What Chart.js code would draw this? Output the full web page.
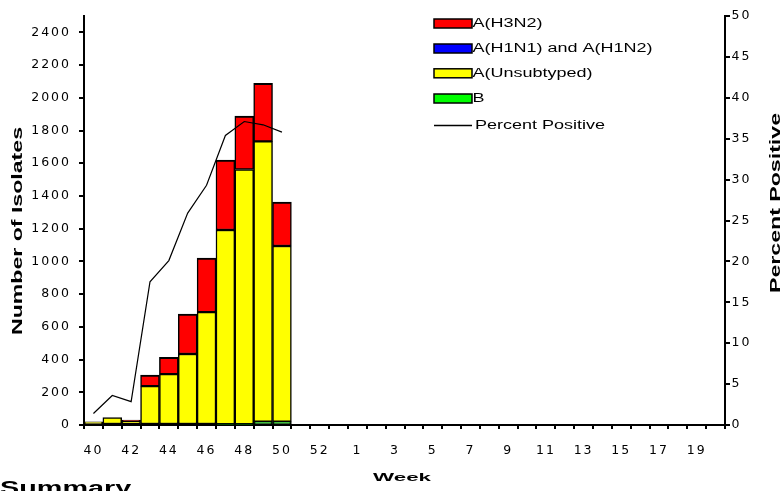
<!DOCTYPE html>
<html><head><meta charset="utf-8">
<script src="https://cdn.jsdelivr.net/npm/chart.js@4.4.1/dist/chart.umd.min.js"></script>
<style>
html,body{margin:0;padding:0;background:#fff;overflow:hidden;width:784px;height:491px;}
#wrap{position:relative;width:784px;height:491px;overflow:hidden;}
canvas{position:absolute;left:0;top:0;}
#summary{position:absolute;left:0;top:479px;font:bold 18px "Liberation Sans",Arial,sans-serif;line-height:18px;transform:scaleX(1.6);transform-origin:0 0;white-space:nowrap;color:#000;}
</style></head><body>
<div id="wrap"><canvas id="c" width="784" height="491"></canvas><div id="summary">Summary</div></div>
<script>
// ---- data ----
const weeks = ['40','41','42','43','44','45','46','47','48','49','50','51','52','53',
  '1','2','3','4','5','6','7','8','9','10','11','12','13','14','15','16','17','18','19','20'];
const xTickLabels = ['40','42','44','46','48','50','52','1','3','5','7','9','11','13','15','17','19'];
const leftTicks = [0,200,400,600,800,1000,1200,1400,1600,1800,2000,2200,2400];
const rightTicks = [0,5,10,15,20,25,30,35,40,45,50];
const h3n2 =       [0, 0, 5, 67, 103, 244, 330, 427, 326, 354, 269];
const h1n1h1n2 =   [0, 0, 0, 0, 0, 0, 0, 0, 0, 0, 0];
const unsubtyped = [20, 45, 25, 238, 311, 434, 690, 1187, 1557, 1714, 1074];
const bType =      [0, 0, 0, 0, 0, 0, 0, 5, 5, 20, 20];
const pctPositive = [1.4, 3.6, 2.85, 17.5, 20.1, 25.9, 29.3, 35.4, 37.1, 36.7, 35.8];

const pad = arr => weeks.map((w,i) => i < arr.length ? arr[i] : null);

const FONT = {family:'"DejaVu Sans", "Liberation Sans", Arial, sans-serif', size:12.5};
const SP = '2px';
const spacingPlugin = {
  id:'spacing',
  beforeUpdate(c){ c.ctx.letterSpacing = SP; },
  beforeLayout(c){ c.ctx.letterSpacing = SP; },
  beforeDraw(c){ c.ctx.letterSpacing = SP; }
};

function stretchText(ctx, text, cx, cy, font, len, rot){
  ctx.save();
  ctx.letterSpacing = '0px';
  ctx.font = font;
  const w = ctx.measureText(text).width;
  ctx.translate(cx, cy); ctx.rotate(rot); ctx.scale(len / w, 1);
  ctx.textAlign = 'center'; ctx.textBaseline = 'middle'; ctx.fillStyle = '#000';
  ctx.fillText(text, 0, 0);
  ctx.restore();
}

const legendOrder = ['A(H3N2)', 'A(H1N1) and A(H1N2)', 'A(Unsubtyped)', 'B', 'Percent Positive'];
const decorPlugin = {
  id:'decor',
  afterDraw(c){
    const ctx = c.ctx;
    // axis titles
    stretchText(ctx, 'Number of Isolates', 18, 231, 'bold 14px "Liberation Sans", Arial, sans-serif', 208, -Math.PI/2);
    stretchText(ctx, 'Percent Positive', 776, 203, 'bold 14px "Liberation Sans", Arial, sans-serif', 180, -Math.PI/2);
    stretchText(ctx, 'Week', 402, 478.5, 'bold 10px "Liberation Sans", Arial, sans-serif', 58, 0);
    // legend
    const rows = [23.5, 48.5, 73.3, 98.5, 125.5];
    legendOrder.forEach((lab, k) => {
      const ds = c.data.datasets.find(d => d.label === lab);
      const y = rows[k];
      ctx.save();
      ctx.letterSpacing = '0px';
      if (ds.type === 'line') {
        ctx.strokeStyle = '#000'; ctx.lineWidth = 1.5;
        ctx.beginPath(); ctx.moveTo(434, y); ctx.lineTo(472, y); ctx.stroke();
      } else {
        ctx.fillStyle = ds.backgroundColor;
        ctx.fillRect(434, y - 4.5, 38, 9);
        ctx.strokeStyle = '#000'; ctx.lineWidth = 1.5;
        ctx.strokeRect(434, y - 4.5, 38, 9);
      }
      ctx.font = '12px "Liberation Sans", Arial, sans-serif';
      ctx.fillStyle = '#000'; ctx.textAlign = 'left'; ctx.textBaseline = 'middle';
      ctx.translate(ds.type === 'line' ? 475 : 472.5, y + 0.5);
      ctx.scale(1.5, 1);
      ctx.fillText(lab, 0, 0);
      ctx.restore();
    });
  }
};

const barStyle = {borderColor:'#000', borderWidth:1.5, borderSkipped:false, barPercentage:1, categoryPercentage:1, yAxisID:'y'};
const plainNum = v => String(v);

new Chart(document.getElementById('c'), {
  type:'bar',
  data:{
    labels: weeks,
    datasets:[
      Object.assign({label:'B', data:pad(bType), backgroundColor:'#00ff00'}, barStyle),
      Object.assign({label:'A(H1N1) and A(H1N2)', data:pad(h1n1h1n2), backgroundColor:'#0000ff'}, barStyle),
      Object.assign({label:'A(Unsubtyped)', data:pad(unsubtyped), backgroundColor:'#ffff00'}, barStyle),
      Object.assign({}, barStyle, {label:'A(H3N2)', data:pad(h3n2), backgroundColor:'#ff0000', borderWidth:{top:2,left:1.5,right:1.5,bottom:1.5}}),
      {type:'line', label:'Percent Positive', data:pad(pctPositive), yAxisID:'y2', borderColor:'#000', borderWidth:1.2,
       pointRadius:0, tension:0, fill:false, order:-1, spanGaps:false}
    ]
  },
  options:{
    responsive:false, animation:false, devicePixelRatio:1,
    layout:{padding:{top:16, left:0, right:0, bottom:0}},
    plugins:{legend:{display:false}, tooltip:{enabled:false}, title:{display:false}},
    scales:{
      x:{
        stacked:true, offset:true,
        grid:{display:true, drawOnChartArea:false, drawTicks:true, tickLength:4, color:'#000', lineWidth:2, offset:true},
        border:{display:true, color:'#000', width:2},
        ticks:{autoSkip:false, maxRotation:0, minRotation:0, padding:14, color:'#000', font:FONT,
          callback:(v, i) => xTickLabels.includes(weeks[i]) ? weeks[i] : ''},
        afterFit(s){ s.height = 66; }
      },
      y:{
        stacked:true, position:'left', min:0, max:2500,
        ticks:{stepSize:200, padding:8, color:'#000', font:FONT, callback:plainNum},
        afterBuildTicks(s){ s.ticks = leftTicks.map(v => ({value:v})); },
        grid:{drawOnChartArea:false, drawTicks:true, tickLength:5, color:'#000', lineWidth:2},
        border:{display:true, color:'#000', width:2},
        afterFit(s){ s.width = 84; }
      },
      y2:{
        position:'right', min:0, max:50,
        ticks:{stepSize:5, padding:1.5, color:'#000', font:FONT, callback:plainNum},
        afterBuildTicks(s){ s.ticks = rightTicks.map(v => ({value:v})); },
        grid:{drawOnChartArea:false, drawTicks:true, tickLength:5, color:'#000', lineWidth:2},
        border:{display:true, color:'#000', width:2},
        afterFit(s){ s.width = 59; }
      }
    }
  },
  plugins:[spacingPlugin, decorPlugin]
});
</script>
</body></html>
